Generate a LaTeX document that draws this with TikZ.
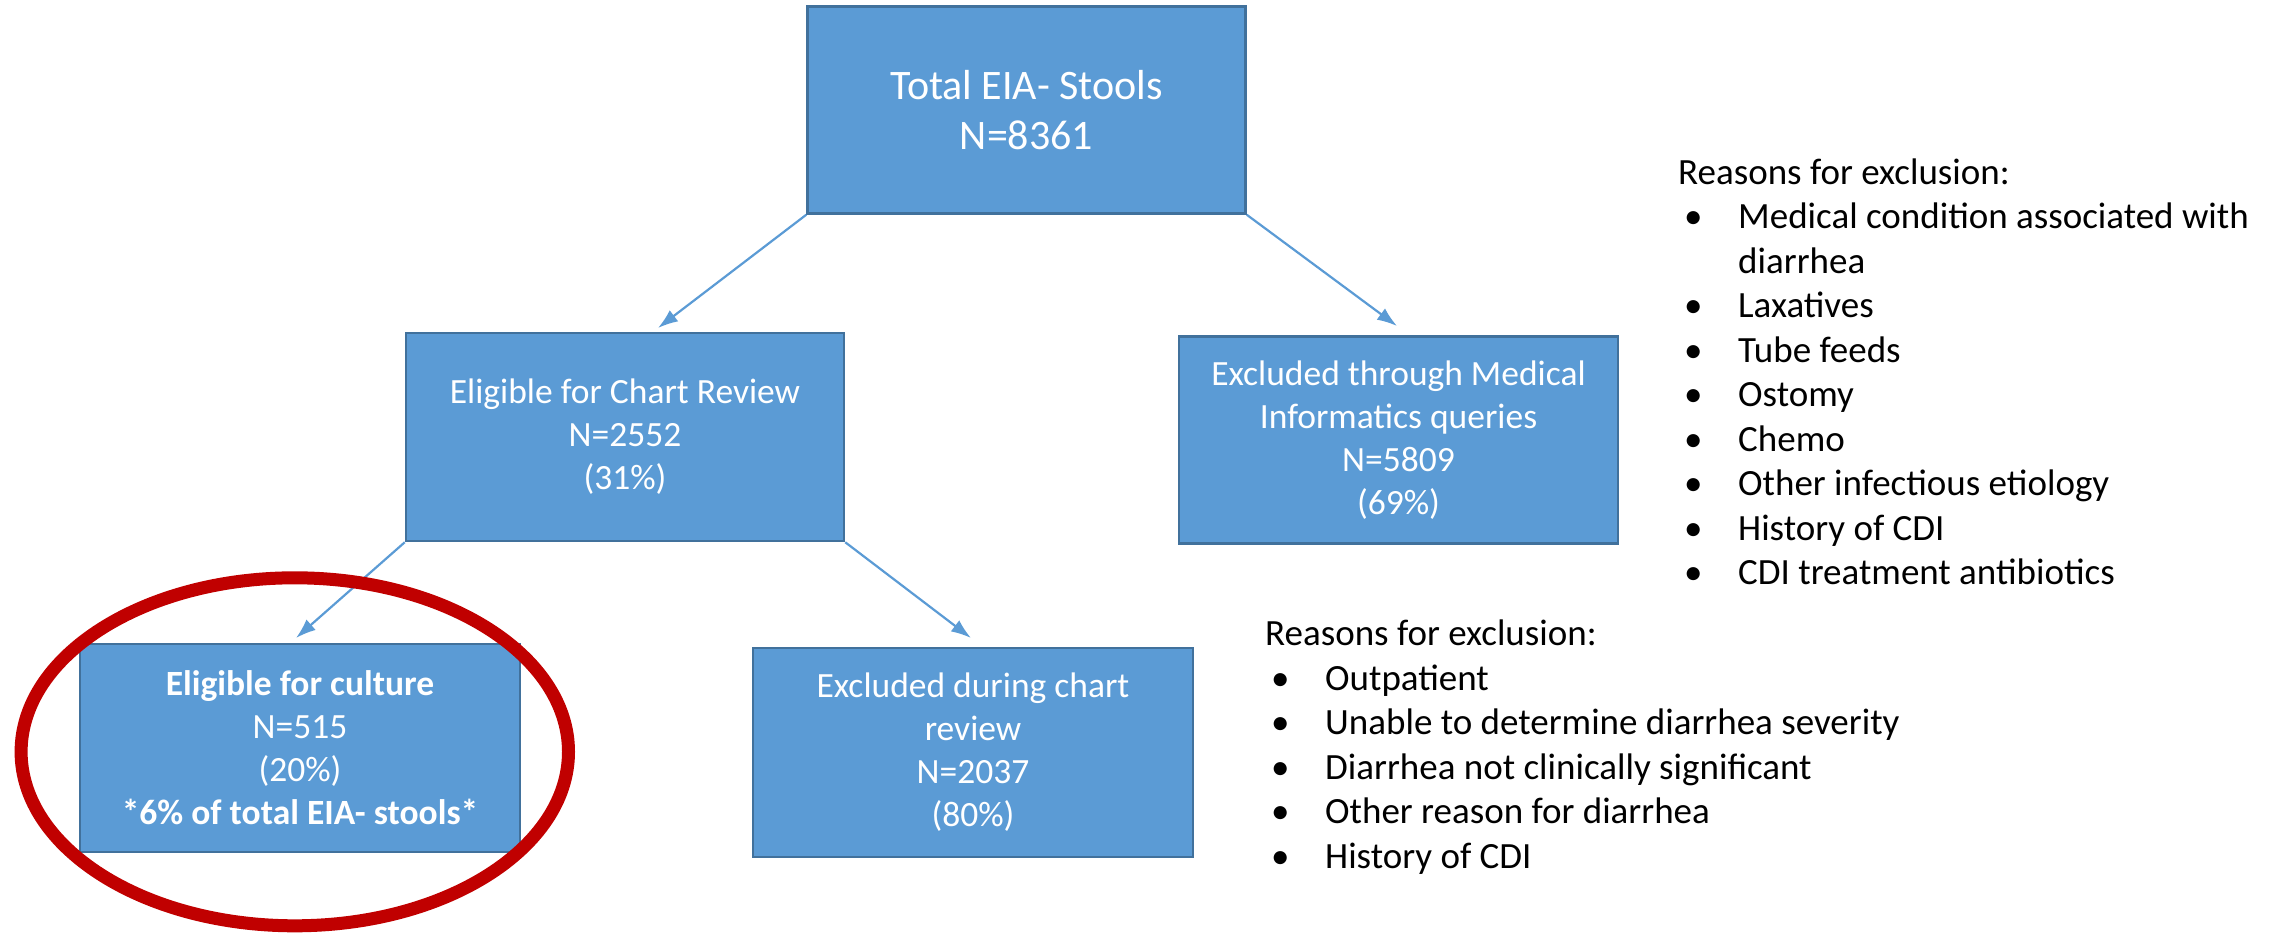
\documentclass[tikz,border=0pt]{standalone}
\usepackage{fontspec}
\setmainfont{Carlito}
\usetikzlibrary{arrows.meta}
\definecolor{boxfill}{HTML}{5B9BD5}
\definecolor{boxline}{HTML}{41719C}
\definecolor{arrowc}{HTML}{5B9BD5}
\definecolor{ringred}{HTML}{C00000}
\tikzset{
  flowbox/.style={draw=boxline, line width=2.5pt, fill=boxfill, text=white, align=center,
    inner sep=0pt, font=\fontsize{35.5}{43}\selectfont},
  flowarrow/.style={draw=arrowc, line width=2.2pt, -{Latex[length=20pt,width=14pt]}},
  listline/.style={anchor=base west, inner sep=0pt, font=\fontsize{37}{44.5}\selectfont, text=black},
}
\newcommand{\blt}[1]{\makebox[54pt][l]{\textbullet}#1}
\begin{document}
\begin{tikzpicture}[x=1pt,y=-1pt]
\useasboundingbox (0,0) rectangle (2282,932);
% boxes
\node[flowbox, minimum width=438pt, minimum height=207pt, font=\fontsize{42}{50}\selectfont] (top) at (1026.5,110) {Total EIA- Stools\\N=8361};
\node[flowbox, minimum width=438pt, minimum height=208pt] (chart) at (625,437) {Eligible for Chart Review\\N=2552\\(31\%)};
\node[flowbox, minimum width=439pt, minimum height=207pt] (mi) at (1398.5,440) {Excluded through Medical\\Informatics queries\\N=5809\\(69\%)};
\node[flowbox, minimum width=440pt, minimum height=208pt] (cult) at (300,748) {\textbf{Eligible for culture}\\N=515\\(20\%)\\\textbf{*6\% of total EIA- stools*}};
\node[flowbox, minimum width=440pt, minimum height=209pt] (exc) at (973,752.5) {Excluded during chart\\review\\N=2037\\(80\%)};
% arrow end coordinates
\coordinate (tChart) at (658,328);
\coordinate (tMI) at (1397,326);
\coordinate (tCult) at (296,638);
\coordinate (tExc) at (971,638);
\draw[flowarrow] (top.south west) -- (tChart);
\draw[flowarrow] (top.south east) -- (tMI);
\draw[flowarrow] (chart.south west) -- (tCult);
\draw[flowarrow] (chart.south east) -- (tExc);
% highlight ellipse
\draw[ringred, line width=13pt] (294.8,751.8) ellipse [x radius=273.7, y radius=174];
% first reasons list
\node[listline] (ra0) at (1678,184) {Reasons for exclusion:};
\node[listline] (ra1) at (1684,228.5) {\blt{Medical condition associated with}};
\node[listline] (ra2) at (1738,273) {diarrhea};
\node[listline] (ra3) at (1684,317.5) {\blt{Laxatives}};
\node[listline] (ra4) at (1684,362) {\blt{Tube feeds}};
\node[listline] (ra5) at (1684,406.5) {\blt{Ostomy}};
\node[listline] (ra6) at (1684,451) {\blt{Chemo}};
\node[listline] (ra7) at (1684,495.5) {\blt{Other infectious etiology}};
\node[listline] (ra8) at (1684,540) {\blt{History of CDI}};
\node[listline] (ra9) at (1684,584.5) {\blt{CDI treatment antibiotics}};
% second reasons list
\node[listline] (rb0) at (1265,645.5) {Reasons for exclusion:};
\node[listline] (rb1) at (1271,690) {\blt{Outpatient}};
\node[listline] (rb2) at (1271,734.5) {\blt{Unable to determine diarrhea severity}};
\node[listline] (rb3) at (1271,779) {\blt{Diarrhea not clinically significant}};
\node[listline] (rb4) at (1271,823.5) {\blt{Other reason for diarrhea}};
\node[listline] (rb5) at (1271,868) {\blt{History of CDI}};
\end{tikzpicture}
\end{document}
